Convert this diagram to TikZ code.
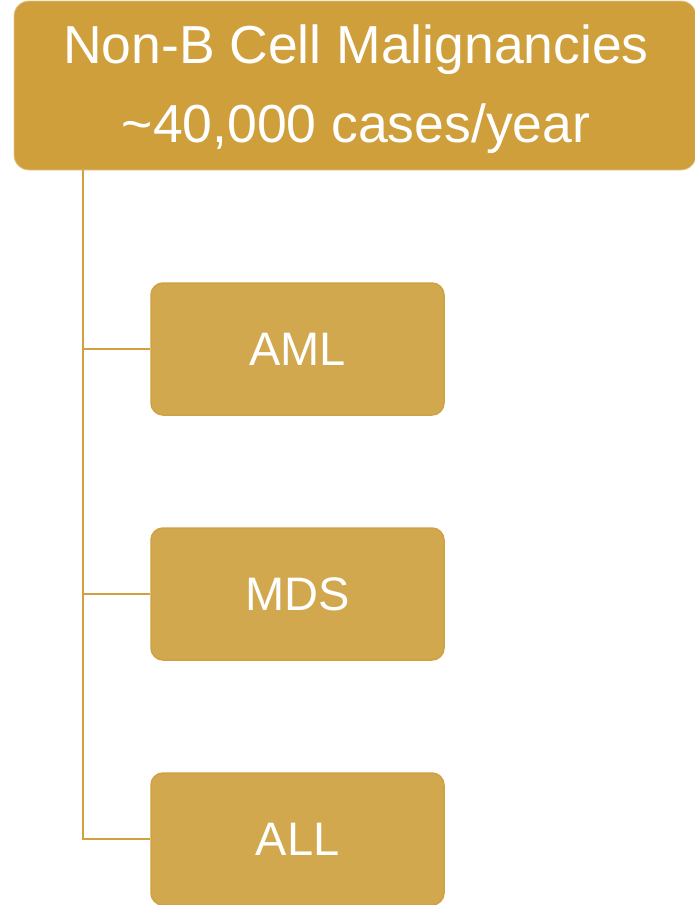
\documentclass[tikz,border=0pt]{standalone}
\usepackage{fontspec}
\setmainfont{Liberation Sans}
\usetikzlibrary{positioning}

\definecolor{headgold}{HTML}{CF9F3C}
\definecolor{boxgold}{HTML}{D1A84D}
\definecolor{edgegold}{HTML}{CFA143}

\tikzset{
    headbox/.style={fill=headgold,draw=headgold!60!white,line width=0.8pt,rounded corners=15pt,
        minimum width=682pt,minimum height=169pt,inner sep=0pt},
    headtext/.style={text=white,align=center,inner sep=0pt},
    subbox/.style={fill=boxgold,draw=edgegold,line width=1.5pt,rounded corners=12pt,
        minimum width=293pt,minimum height=132pt,text=white,inner sep=0pt},
    branch/.style={draw=edgegold,line width=2pt}
}

\begin{document}
\begin{tikzpicture}[x=1pt,y=1pt]
    \pgfmathsetmacro{\boxcenterx}{297.5}
    \pgfmathsetmacro{\trunkx}{83}
    \providecommand{\headfontsize}{\fontsize{53.5pt}{79pt}\selectfont}
    \providecommand{\subfontsize}{\fontsize{47pt}{56pt}\selectfont}
    \useasboundingbox (0,0) rectangle (695,-905);
    \node[headbox](head) at (355,-85.5){};
    \node[headtext,font=\headfontsize](headlabel) at ([xshift=1pt,yshift=-4pt]head.center)
    {Non-B Cell Malignancies\\\textasciitilde40,000 cases/year};
    \node[subbox,font=\subfontsize](aml) at (\boxcenterx,-349){AML};
    \node[subbox,font=\subfontsize](mds) at (\boxcenterx,-594){MDS};
    \node[subbox,font=\subfontsize](all) at (\boxcenterx,-839){ALL};
    % tree lines
    \coordinate (trunk) at (\trunkx,-170);
    \draw[branch] (trunk) |- (all.west);
    \draw[branch] (trunk |- aml.west) -- (aml.west);
    \draw[branch] (trunk |- mds.west) -- (mds.west);
\end{tikzpicture}
\end{document}
